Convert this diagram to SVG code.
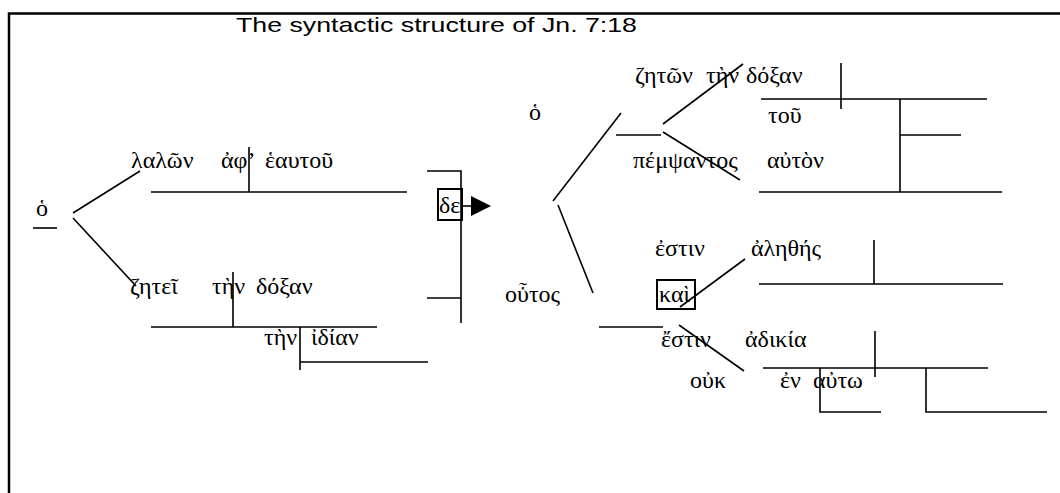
<svg xmlns="http://www.w3.org/2000/svg" width="1060" height="493" viewBox="0 0 1060 493">
<style>
.g{font-family:"Liberation Serif","DejaVu Serif",serif;font-size:24px;fill:#000}
.t{font-family:"Liberation Sans",Arial,sans-serif;font-size:21px;fill:#000}
.ln{stroke:#000;stroke-width:1.6;fill:none}
.bx{stroke:#000;stroke-width:2;fill:none}
</style>
<defs>
<marker id="ar" viewBox="0 0 20 20" refX="0" refY="10" markerWidth="20" markerHeight="20" markerUnits="userSpaceOnUse" orient="auto"><path d="M0,0 L20,10 L0,20 Z" fill="#000"/></marker>
</defs>
<rect width="1060" height="493" fill="#fff"/>
<path d="M9,493 V13.5 H1060" stroke="#000" stroke-width="2.5" fill="none"/>
<g id="title"><text class="t" x="236" y="32" textLength="401" lengthAdjust="spacingAndGlyphs">The syntactic structure of Jn. 7:18</text></g>

<g id="connectors">
<path class="ln" d="M33,228 H57"/>
<path class="ln" d="M73,213 L140,171"/>
<path class="ln" d="M73,218 L136,286"/>
<path class="ln" d="M151,192 H407 M249,147 V192"/>
<path class="ln" d="M151,327 H377 M233,272 V327"/>
<path class="ln" d="M300,327 V370 M300,362 H428"/>
<path class="ln" d="M427,171 H461 V323 M427,298 H461"/>
<path class="ln" d="M462,206 H471" marker-end="url(#ar)"/>
<path class="ln" d="M553,201 L621,113"/>
<path class="ln" d="M558,205 L593,293"/>
<path class="ln" d="M616,135 H661"/>
<path class="ln" d="M663,124 L743,64"/>
<path class="ln" d="M663,132 L740,180"/>
<path class="ln" d="M841,63 V109 M761,99 H987 M900,99 V192 M900,135 H961 M759,192 H1002"/>
<path class="ln" d="M874,240 V284 M759,284 H1003"/>
<path class="ln" d="M680,307 L745,259"/>
<path class="ln" d="M599,327 H663"/>
<path class="ln" d="M679,325 L744,371"/>
<path class="ln" d="M875,331 V377 M763,368 H988 M820,368 V412 H881 M926,368 V412 H1047"/>
</g>

<g id="n-ho-left"><text class="g" x="36" y="216">ὁ</text></g>
<g id="n-lalwn"><text class="g" y="168"><tspan x="131">λαλῶν</tspan><tspan x="221">ἀφ’</tspan><tspan x="265">ἑαυτοῦ</tspan></text></g>
<g id="n-zhtei"><text class="g" y="294"><tspan x="130">ζητεῖ</tspan><tspan x="212">τὴν</tspan><tspan x="256">δόξαν</tspan></text></g>
<g id="n-idian"><text class="g" y="345"><tspan x="264">τὴν</tspan><tspan x="311">ἰδίαν</tspan></text></g>
<g id="n-de"><rect class="bx" x="438" y="189" width="24" height="31"/><text class="g" x="439" y="213">δε</text></g>
<g id="n-ho-right"><text class="g" x="529" y="120">ὁ</text></g>
<g id="n-outos"><text class="g" x="505" y="302">οὗτος</text></g>
<g id="n-zhtwn"><text class="g" y="83"><tspan x="635">ζητῶν</tspan><tspan x="706">τὴν</tspan><tspan x="746">δόξαν</tspan></text></g>
<g id="n-tou"><text class="g" x="768" y="123">τοῦ</text></g>
<g id="n-pempsantos"><text class="g" y="168"><tspan x="633">πέμψαντος</tspan><tspan x="767">αὐτὸν</tspan></text></g>
<g id="n-estin1"><text class="g" y="256"><tspan x="655">ἐστιν</tspan><tspan x="751">ἀληθής</tspan></text></g>
<g id="n-kai"><rect class="bx" x="657" y="280" width="38" height="29"/><text class="g" x="659" y="302">καὶ</text></g>
<g id="n-estin2"><text class="g" y="347"><tspan x="661">ἔστιν</tspan><tspan x="745">ἀδικία</tspan></text></g>
<g id="n-ouk"><text class="g" x="690" y="388">οὐκ</text></g>
<g id="n-en"><text class="g" y="388"><tspan x="780">ἐν</tspan><tspan x="813">αὐτω</tspan></text></g>
</svg>
